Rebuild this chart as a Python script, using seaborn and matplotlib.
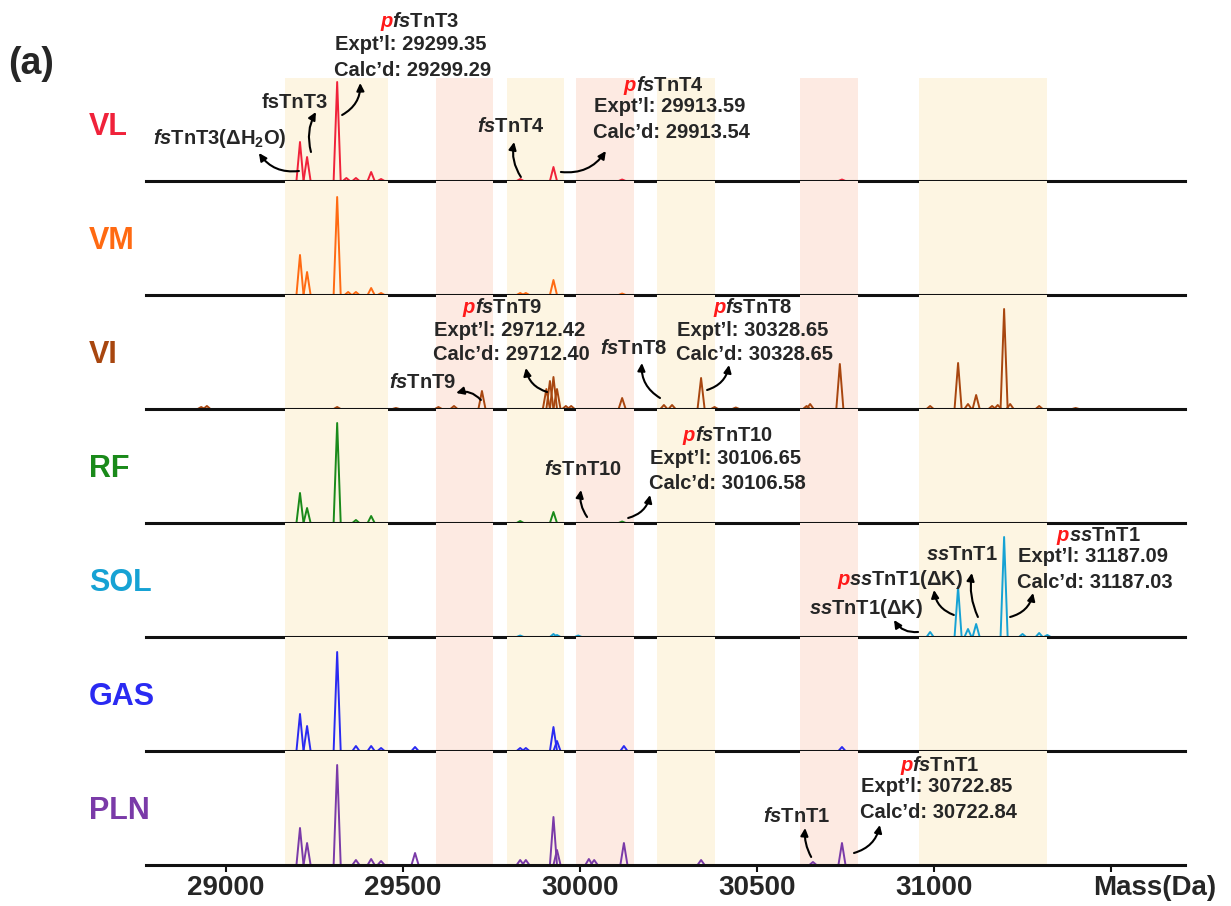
import numpy as np
import pandas as pd
import seaborn as sns
import matplotlib.pyplot as plt

sns.set_style("white")
plt.rcParams['font.family'] = ['Liberation Sans', 'DejaVu Sans']
plt.rcParams['font.weight'] = 'bold'
plt.rcParams['mathtext.fontset'] = 'custom'
plt.rcParams['mathtext.rm'] = 'Liberation Sans:bold'
plt.rcParams['mathtext.it'] = 'Liberation Sans:bold:italic'
plt.rcParams['mathtext.bf'] = 'Liberation Sans:bold'

# ---- data: peak centres (Da) and relative heights ----
tissues = ["VL", "VM", "VI", "RF", "SOL", "GAS", "PLN"]
colors = ["#f0223a", "#ff6a12", "#a8460f", "#1a8a1a", "#16a2d4", "#2a2af2", "#7a3aa8"]

vl_mass = [29209, 29229, 29314, 29340, 29367, 29410, 29438, 29831, 29925, 30119, 30740]
vl_int = [39, 24, 99, 3, 3, 9, 2, 2, 14, 1.5, 1.5]

vm_mass = [29209, 29229, 29314, 29345, 29367, 29410, 29438, 29831, 29847, 29925, 30119]
vm_int = [40, 23, 98, 3, 3, 7, 2, 2, 2, 15, 1.5]

vi_mass = [28930, 28946, 29314, 29480, 29600, 29644, 29723, 29905, 29915, 29925, 29935,
           29960, 29975, 30119, 30237, 30260, 30342, 30380, 30440, 30640, 30650, 30734,
           30989, 31068, 31096, 31119, 31164, 31180, 31198, 31215, 31297, 31400]
vi_int = [2, 3, 2, 1, 2, 3, 18, 20, 28, 32, 20,
          3, 3, 11, 4, 4, 31, 2, 1.5, 3, 5, 45,
          3, 46, 5, 14, 3, 4, 100, 5, 3, 1]

rf_mass = [29209, 29229, 29314, 29367, 29410, 29831, 29925, 30119]
rf_int = [30, 15, 100, 3, 7, 2, 11, 1.5]

sol_mass = [29831, 29925, 29935, 29995, 30989, 31068, 31096, 31119, 31198, 31250, 31297, 31320]
sol_int = [1.5, 3, 2, 1.5, 5, 50, 8, 13, 100, 3, 4, 2]

gas_mass = [29209, 29229, 29314, 29367, 29410, 29438, 29534, 29831, 29847, 29925, 29935, 30124, 30740]
gas_int = [37, 25, 99, 5, 5, 3, 4, 3, 3, 24, 10, 5, 4]

pln_mass = [29209, 29229, 29314, 29367, 29410, 29438, 29534, 29831, 29847, 29925, 29935,
            30025, 30040, 30124, 30342, 30658, 30740]
pln_int = [37, 22, 100, 5, 6, 4, 12, 5, 5, 48, 15, 6, 5, 22, 5, 3, 22]

peak_mass = [vl_mass, vm_mass, vi_mass, rf_mass, sol_mass, gas_mass, pln_mass]
peak_int = [vl_int, vm_int, vi_int, rf_int, sol_int, gas_int, pln_int]

# shaded mass windows
band_lo = [29167, 29593, 29794, 29989, 30218, 30621, 30958]
band_hi = [29458, 29754, 29955, 30153, 30381, 30785, 31319]
band_col = ["#fdf5e2", "#fdeae2", "#fdf5e2", "#fdeae2", "#fdf5e2", "#fdeae2", "#fdf5e2"]

tick_vals = [29000, 29500, 30000, 30500, 31000, 31500]
tick_text = ["29000", "29500", "30000", "30500", "31000", ""]

HW = 10  # half width of a drawn peak, Da

rows = []
for t, ms, hs in zip(tissues, peak_mass, peak_int):
    for i, (m, h) in enumerate(zip(ms, hs)):
        for dx, f in ((-HW, 0), (0, 1), (HW, 0)):
            rows.append((t, i, m + dx, h * f))
df = pd.DataFrame(rows, columns=["tissue", "peak", "mass", "intensity"])

fig, axes = plt.subplots(7, 1, figsize=(12.31, 9.06), dpi=100, sharex=True)
fig.subplots_adjust(left=146 / 1231, right=1185 / 1231, top=1 - 67 / 906,
                    bottom=1 - 865 / 906, hspace=0)

for k, (ax, t, c) in enumerate(zip(axes, tissues, colors)):
    ax.set_facecolor("none")
    for lo, hi, bc in zip(band_lo, band_hi, band_col):
        ax.axvspan(lo, hi, ymin=0, ymax=(103 / 114 if k == 0 else 1), color=bc, lw=0, zorder=0)
    sns.lineplot(data=df[df.tissue == t], x="mass", y="intensity", units="peak",
                 estimator=None, color=c, lw=1.4, ax=ax, legend=False)
    ax.set_xlim(28774, 31709)
    ax.set_ylim(0, 114)
    ax.set_yticks([])
    ax.set_xlabel("")
    ax.set_ylabel("")
    for s in ("top", "left", "right"):
        ax.spines[s].set_visible(False)
    ax.spines["bottom"].set_linewidth(2.2)
    ax.spines["bottom"].set_color("#111111")
    ax.tick_params(axis="x", bottom=False, labelbottom=False)
    fig.text(89 / 1231, 1 - (181 + 114 * k - 54) / 906, t, color=c, fontsize=22,
             fontweight="bold", ha="left", va="center")

axb = axes[-1]
axb.set_xticks(tick_vals)
axb.set_xticklabels(tick_text)
axb.tick_params(axis="x", bottom=True, labelbottom=True, direction="out", length=5,
                width=1.5, pad=2.5, labelsize=20, color="#111111")
axb.text(31449, -10 / 114, "Mass(Da)", transform=axb.get_xaxis_transform(),
         ha="left", va="top", fontsize=20, fontweight="bold")

fig.text(8 / 1231, 1 - 64 / 906, "(a)", fontsize=27, fontweight="bold", ha="left", va="center")

FS = 14.5
RED = "#ff1a1a"
renderer = fig.canvas.get_renderer()


def ptag(ax, x, y, rest):
    t = ax.text(x, y, "p", color=RED, style="italic", ha="left", va="baseline", fontsize=FS)
    bb = t.get_window_extent(renderer)
    x2 = ax.transData.inverted().transform((bb.x1, bb.y0))[0]
    ax.text(x2, y, rest, ha="left", va="baseline", fontsize=FS)


def label(ax, x, y, s):
    ax.text(x, y, s, ha="center", va="center", fontsize=FS)


def arrow(ax, start, end, rad):
    ax.annotate("", xy=end, xytext=start, annotation_clip=False,
                arrowprops=dict(arrowstyle="-|>,head_length=0.45,head_width=0.22",
                                color="black", lw=1.5, shrinkA=0, shrinkB=0,
                                connectionstyle=f"arc3,rad={rad}"))


def values(ax, x, y, expt, calc):
    label(ax, x, y, "Expt\u2019l: " + expt)
    label(ax, x + 5, y - 25, "Calc\u2019d: " + calc)


# VL
ax = axes[0]
label(ax, 28983, 43, r"$\mathit{fs}$TnT3($\Delta$H$_2$O)")
arrow(ax, (29206, 10), (29093, 28), -0.3)
label(ax, 29195, 79, "fsTnT3")
arrow(ax, (29240, 29), (29254, 69), -0.2)
ptag(ax, 29435, 154, r"$\mathit{fs}$TnT3")
values(ax, 29523, 136, "29299.35", "29299.29")
arrow(ax, (29328, 66), (29379, 98), 0.3)
label(ax, 29805, 55, r"$\mathit{fs}$TnT4")
arrow(ax, (29833, 4), (29814, 39), -0.2)
ptag(ax, 30124, 90, r"$\mathit{fs}$TnT4")
values(ax, 30254, 74, "29913.59", "29913.54")
arrow(ax, (29946, 9), (30073, 30), 0.3)

# VI
ax = axes[2]
ptag(ax, 29669, 96, r"$\mathit{fs}$TnT9")
values(ax, 29802, 79, "29712.42", "29712.40")
label(ax, 29556, 27, r"$\mathit{fs}$TnT9")
arrow(ax, (29720, 9), (29650, 16), 0.3)
arrow(ax, (29907, 17), (29847, 41), -0.3)
label(ax, 30153, 61, r"$\mathit{fs}$TnT8")
arrow(ax, (30226, 11), (30175, 46), -0.3)
ptag(ax, 30376, 96, r"$\mathit{fs}$TnT8")
values(ax, 30489, 79, "30328.65", "30328.65")
arrow(ax, (30359, 19), (30421, 44), 0.3)

# RF
ax = axes[3]
label(ax, 30008, 54, r"$\mathit{fs}$TnT10")
arrow(ax, (30020, 6), (30003, 33), -0.2)
ptag(ax, 30290, 82, r"$\mathit{fs}$TnT10")
values(ax, 30410, 65, "30106.65", "30106.58")
arrow(ax, (30136, 5), (30198, 28), 0.3)

# SOL
ax = axes[4]
label(ax, 30808, 29, r"$\mathit{ss}$TnT1($\Delta$K)")
arrow(ax, (30955, 5), (30887, 17), -0.3)
ptag(ax, 30726, 52, r"$\mathit{ss}$TnT1($\Delta$K)")
arrow(ax, (31056, 22), (31000, 47), -0.3)
label(ax, 31079, 82, r"$\mathit{ss}$TnT1")
arrow(ax, (31124, 20), (31107, 64), -0.15)
ptag(ax, 31347, 96, r"$\mathit{ss}$TnT1")
values(ax, 31449, 80, "31187.09", "31187.03")
arrow(ax, (31215, 20), (31280, 44), 0.3)

# PLN
ax = axes[6]
label(ax, 30613, 48, r"$\mathit{fs}$TnT1")
arrow(ax, (30653, 8), (30636, 37), -0.15)
ptag(ax, 30904, 94, r"$\mathit{fs}$TnT1")
values(ax, 31008, 78, "30722.85", "30722.84")
arrow(ax, (30774, 12), (30847, 40), 0.3)

fig.savefig("out.png", dpi=100)
